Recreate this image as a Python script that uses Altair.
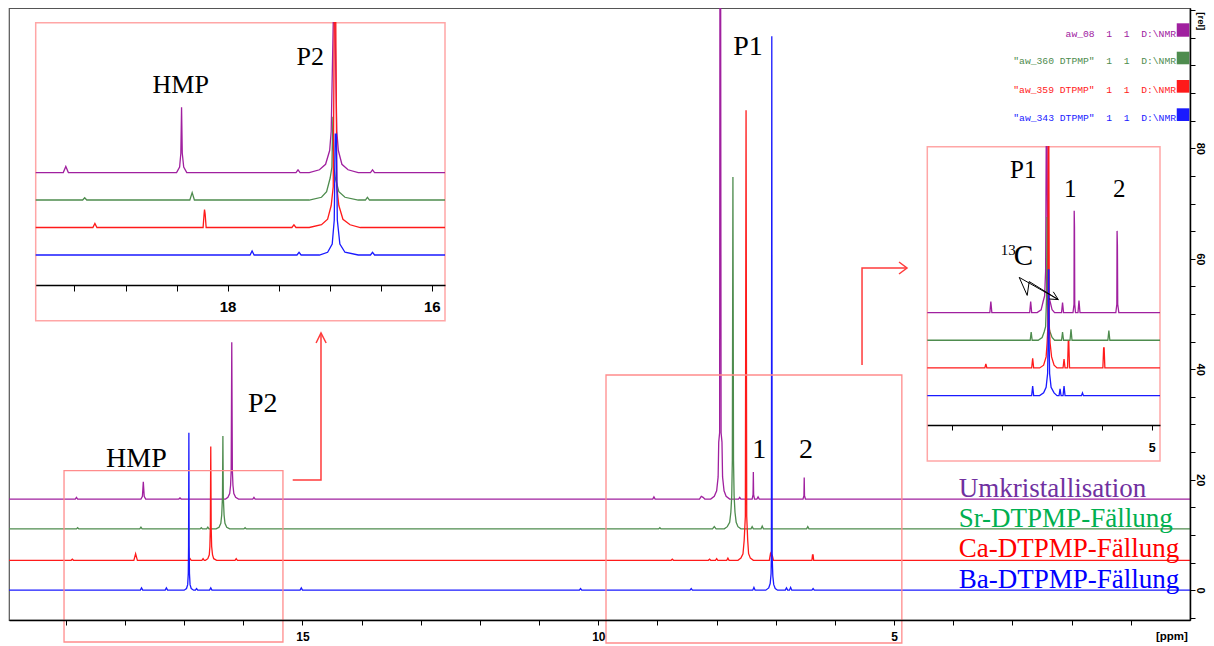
import altair as alt
import pandas as pd

# ---------------- series ----------------
SERIES = ["Umkristallisation", "Sr-DTPMP-Fällung", "Ca-DTPMP-Fällung", "Ba-DTPMP-Fällung"]
TRACE_COLORS = ["#A0209F", "#4E8C4E", "#FF1A1A", "#1A1AFF"]
LABEL_COLORS = ["#7030A0", "#00B050", "#FF0000", "#0000FF"]
FILE_LABELS = ['aw_08  1  1  D:\\NMR', '"aw_360 DTPMP"  1  1  D:\\NMR',
               '"aw_359 DTPMP"  1  1  D:\\NMR', '"aw_343 DTPMP"  1  1  D:\\NMR']
MAIN_OFFSETS = [16.5, 11.1, 5.4, 0.0]
INSET_OFFSETS = [3.0, 2.0, 1.0, 0.0]

# ---------------- main spectrum (ppm, relative intensity above own baseline) ----------------
UM_MAIN_PPM = [20.0, 18.84, 18.82, 18.80, 17.73, 17.705, 17.69, 17.675, 17.65, 17.09, 17.07, 17.05,
               16.30, 16.26, 16.23, 16.215, 16.205, 16.195, 16.185, 16.175, 16.16, 16.13, 16.08,
               15.84, 15.82, 15.80, 9.08, 9.06, 9.04, 8.29, 8.26, 8.23, 8.20,
               8.10, 8.04, 8.00, 7.975, 7.965, 7.95, 7.945, 7.932, 7.925, 7.91, 7.90, 7.875, 7.84, 7.78,
               7.63, 7.61, 7.59, 7.40, 7.385, 7.38, 7.375, 7.36, 7.32, 7.30, 7.28,
               6.54, 6.525, 6.52, 6.515, 6.50, 0.0]
UM_MAIN_INT = [0, 0, 0.3, 0, 0, 0.5, 3.1, 0.5, 0, 0, 0.2, 0,
               0, 0.3, 1.0, 2.5, 5.2, 28.4, 5.2, 2.5, 1.0, 0.3, 0,
               0, 0.3, 0, 0, 0.4, 0, 0, 0.5, 0.3, 0,
               0, 0.5, 1.5, 4.0, 10.3, 12.0, 88.9, 88.9, 12.0, 10.3, 4.0, 1.5, 0.5, 0,
               0, 0.3, 0, 0, 0.8, 4.9, 0.8, 0, 0, 0.4, 0,
               0, 0.6, 3.9, 0.6, 0, 0]
SR_MAIN_PPM = [20.0, 18.82, 18.80, 18.78, 17.75, 17.73, 17.71, 16.73, 16.71, 16.69, 16.62, 16.60, 16.58,
               16.46, 16.41, 16.38, 16.365, 16.352, 16.345, 16.338, 16.325, 16.31, 16.28, 16.23,
               15.99, 15.97, 15.95, 8.98, 8.96, 8.94, 8.07, 8.04, 8.01,
               7.87, 7.82, 7.78, 7.76, 7.745, 7.735, 7.725, 7.715, 7.705, 7.69, 7.67, 7.64, 7.59,
               7.42, 7.40, 7.38, 7.25, 7.23, 7.21, 6.48, 6.46, 6.44, 0.0]
SR_MAIN_INT = [0, 0, 0.2, 0, 0, 0.3, 0, 0, 0.2, 0, 0, 0.3, 0,
               0, 0.3, 1.0, 2.5, 5.8, 16.8, 5.8, 2.5, 1.0, 0.3, 0,
               0, 0.2, 0, 0, 0.2, 0, 0, 0.4, 0,
               0, 0.4, 1.2, 3.0, 6.0, 12.4, 63.7, 12.4, 6.0, 3.0, 1.2, 0.4, 0,
               0, 0.4, 0, 0, 0.5, 0, 0, 0.4, 0, 0]
CA_MAIN_PPM = [20.0, 18.91, 18.89, 18.87, 17.85, 17.82, 17.79, 16.92, 16.90, 16.88, 16.70, 16.68, 16.66,
               16.64, 16.60, 16.575, 16.565, 16.557, 16.55, 16.543, 16.535, 16.52, 16.50, 16.45,
               16.14, 16.12, 16.10, 8.77, 8.75, 8.73, 8.14, 8.12, 8.10, 8.02, 8.00, 7.98, 7.83, 7.81, 7.79,
               7.64, 7.59, 7.555, 7.535, 7.515, 7.503, 7.492, 7.475, 7.46, 7.43, 7.38,
               7.11, 7.09, 7.075, 7.06, 7.04, 6.39, 6.38, 6.37, 6.36, 0.0]
CA_MAIN_INT = [0, 0, 0.2, 0, 0, 1.2, 0, 0, 0.3, 0, 0, 0.3, 0,
               0, 0.3, 1.0, 2.5, 6.0, 20.6, 6.0, 2.5, 1.0, 0.3, 0,
               0, 0.3, 0, 0, 0.2, 0, 0, 0.2, 0, 0, 0.3, 0, 0, 0.4, 0,
               0, 0.4, 1.2, 3.6, 8.0, 81.5, 8.0, 3.6, 1.2, 0.4, 0,
               0, 1.2, 0.8, 0.9, 0, 0, 1.0, 1.0, 0, 0]
BA_MAIN_PPM = [20.0, 17.74, 17.72, 17.70, 17.32, 17.30, 17.28,
               17.00, 16.96, 16.94, 16.93, 16.925, 16.92, 16.915, 16.91, 16.90, 16.88, 16.84,
               16.81, 16.79, 16.77, 16.57, 16.55, 16.53, 15.04, 15.02, 15.00, 10.32, 10.30, 10.28,
               8.45, 8.43, 8.41, 7.39, 7.37, 7.35,
               7.17, 7.12, 7.095, 7.08, 7.075, 7.068, 7.062, 7.05, 7.035, 7.01, 6.97,
               6.84, 6.82, 6.80, 6.77, 6.75, 6.73, 6.39, 6.37, 6.35, 0.0]
BA_MAIN_INT = [0, 0, 0.4, 0, 0, 0.4, 0,
               0, 0.3, 1.0, 3.0, 8.0, 28.5, 8.0, 3.0, 1.0, 0.3, 0,
               0, 0.3, 0, 0, 0.4, 0, 0, 0.4, 0, 0, 0.3, 0,
               0, 0.3, 0, 0, 0.5, 0,
               0, 0.4, 1.2, 3.0, 6.3, 100.3, 6.0, 2.5, 1.0, 0.3, 0,
               0, 0.4, 0, 0, 0.5, 0, 0, 0.3, 0, 0]

# ---------------- inset 1 (P2 / HMP region) ----------------
UM_I1_PPM = [19.88, 19.61, 19.585, 19.56, 18.50, 18.47, 18.458, 18.451, 18.444, 18.43, 18.40,
             17.33, 17.31, 17.29, 17.20, 17.10, 17.04, 17.00, 16.985, 16.965, 16.948, 16.93, 16.915,
             16.88, 16.82, 16.72, 16.60, 16.58, 16.56, 15.87]
UM_I1_INT = [0, 0, 0.22, 0, 0, 0.2, 0.7, 2.37, 0.7, 0.2, 0,
             0, 0.1, 0, 0, 0.1, 0.3, 0.8, 1.5, 8.0, 8.0, 1.5, 0.8,
             0.3, 0.1, 0, 0, 0.1, 0, 0]
SR_I1_PPM = [19.88, 19.42, 19.40, 19.38, 18.37, 18.347, 18.325,
             17.20, 17.08, 17.03, 16.995, 16.978, 16.968, 16.958, 16.945, 16.91, 16.85, 16.72,
             16.65, 16.63, 16.61, 15.87]
SR_I1_INT = [0, 0, 0.08, 0, 0, 0.27, 0,
             0, 0.1, 0.3, 0.8, 1.2, 3.03, 1.2, 0.8, 0.3, 0.1, 0,
             0, 0.1, 0, 0]
CA_I1_PPM = [19.88, 19.32, 19.30, 19.28, 18.24, 18.23, 18.226, 18.22, 18.21, 17.37, 17.35, 17.33,
             17.20, 17.08, 17.02, 16.985, 16.965, 16.955, 16.94, 16.93, 16.91, 16.87, 16.80, 16.70, 15.87]
CA_I1_INT = [0, 0, 0.15, 0, 0, 0.5, 0.65, 0.5, 0, 0, 0.1, 0,
             0, 0.1, 0.3, 0.8, 1.48, 9.0, 9.0, 1.48, 0.8, 0.3, 0.1, 0, 0]
BA_I1_PPM = [19.88, 17.78, 17.76, 17.74, 17.32, 17.30, 17.28,
             17.10, 17.02, 16.975, 16.955, 16.945, 16.935, 16.925, 16.90, 16.85, 16.72,
             16.60, 16.58, 16.56, 15.87]
BA_I1_INT = [0, 0, 0.15, 0, 0, 0.1, 0,
             0, 0.1, 0.4, 1.27, 4.4, 4.4, 1.27, 0.4, 0.1, 0,
             0, 0.1, 0, 0]

# ---------------- inset 2 (P1 region) ----------------
UM_I2_PPM = [9.506, 8.25, 8.23, 8.21, 7.45, 7.43, 7.41,
             7.30, 7.22, 7.18, 7.15, 7.13, 7.118, 7.10, 7.09, 7.07, 7.04, 7.00, 6.95,
             6.81, 6.79, 6.77, 6.58, 6.56, 6.556, 6.55, 6.545, 6.53, 6.48, 6.46, 6.44,
             5.72, 5.70, 5.695, 5.688, 5.682, 5.66, 4.833]
UM_I2_INT = [0, 0, 0.4, 0, 0, 0.4, 0,
             0, 0.1, 0.4, 0.6, 1.5, 8.0, 8.0, 1.5, 0.6, 0.4, 0.1, 0,
             0, 0.36, 0, 0, 0.3, 3.68, 3.1, 0.3, 0, 0, 0.43, 0,
             0, 0.3, 2.95, 2.4, 0.3, 0, 0]
SR_I2_PPM = [9.506, 7.44, 7.42, 7.40,
             7.28, 7.20, 7.16, 7.13, 7.112, 7.10, 7.09, 7.07, 7.04, 7.00, 6.95,
             6.81, 6.79, 6.77, 6.64, 6.62, 6.60, 5.88, 5.86, 5.84, 4.833]
SR_I2_INT = [0, 0, 0.3, 0,
             0, 0.1, 0.3, 0.49, 1.5, 4.45, 1.5, 0.49, 0.3, 0.1, 0,
             0, 0.3, 0, 0, 0.4, 0, 0, 0.35, 0, 0]
CA_I2_PPM = [9.506, 8.35, 8.33, 8.31, 7.41, 7.39, 7.37,
             7.25, 7.17, 7.12, 7.10, 7.085, 7.077, 7.065, 7.055, 7.04, 7.01, 6.96, 6.90,
             6.78, 6.76, 6.74, 6.69, 6.675, 6.665, 6.65, 5.98, 5.965, 5.955, 5.94, 4.833]
CA_I2_INT = [0, 0, 0.15, 0, 0, 0.35, 0,
             0, 0.1, 0.4, 0.9, 1.5, 9.0, 9.0, 1.5, 0.9, 0.4, 0.1, 0,
             0, 0.32, 0, 0, 0.96, 0.96, 0, 0, 0.72, 0.72, 0, 0]
BA_I2_PPM = [9.506, 7.41, 7.39, 7.37,
             7.25, 7.17, 7.12, 7.09, 7.08, 7.075, 7.065, 7.06, 7.05, 7.02, 6.96, 6.90,
             6.86, 6.84, 6.82, 6.78, 6.76, 6.74, 6.41, 6.39, 6.37, 4.833]
BA_I2_INT = [0, 0, 0.35, 0,
             0, 0.1, 0.3, 0.8, 2.0, 4.54, 4.54, 2.0, 0.8, 0.3, 0.1, 0,
             0, 0.25, 0, 0, 0.35, 0, 0, 0.1, 0, 0]

# ---------------- axes ticks ----------------
MAIN_X_DOMAIN = [19.96, 0.0]
MAIN_Y_DOMAIN = [-5.4, 105.4]
MAIN_X_TICKS = list(range(1, 20))
MAIN_X_LABELED = [15, 10, 5]
MAIN_Y_TICKS = list(range(-5, 106, 5))
MAIN_Y_LABELED = [0, 20, 40, 60, 80]
I1_X_DOMAIN = [19.88, 15.87]
I1_Y_DOMAIN = [-2.39, 8.45]
I1_TICKS = [19.5, 19.0, 18.5, 18.0, 17.5, 17.0, 16.5, 16.0]
I1_LABELED = [18, 16]
I2_X_DOMAIN = [9.506, 4.833]
I2_Y_DOMAIN = [-2.36, 8.99]
I2_TICKS = [9, 8, 7, 6, 5]
I2_LABELED = [5]

# ---------------- annotations (data units) ----------------
MAIN_LABELS = ["HMP", "P2", "P1", "1", "2"]
MAIN_LABEL_PPM = [18.32, 15.92, 7.72, 7.40, 6.61]
MAIN_LABEL_VAL = [22.36, 32.26, 96.89, 23.88, 23.93]
LEGEND_PPM = [3.91, 3.91, 3.91, 3.91]
LEGEND_VAL = [16.93, 11.50, 6.07, 0.45]
FILE_PPM = [0.236, 0.236, 0.236, 0.236]
FILE_VAL = [100.2, 95.21, 90.07, 84.94]
SQUARE_PPM = [0.224, 0.011]
SQUARE_TOP = [102.63, 97.49, 92.36, 87.24]
SQUARE_BOTTOM = [100.2, 95.21, 90.07, 84.94]
BOX_PPM_LEFT = [19.03, 9.87]
BOX_PPM_RIGHT = [15.33, 4.87]
BOX_TOP = [21.63, 38.96]
BOX_BOTTOM = [-9.38, -9.56]
ARROWS = {
    "left": ([15.165, 14.687, 14.687], [19.95, 19.95, 46.56]),
    "left_head": ([14.77, 14.687, 14.60], [44.75, 46.56, 44.75]),
    "right": ([5.543, 5.543, 4.783], [40.77, 58.33, 58.33]),
    "right_head": ([4.918, 4.783, 4.918], [59.41, 58.33, 57.24]),
}
AXIS_TEXT = ["[rel]", "[ppm]"]
AXIS_TEXT_PPM = [-0.178, 0.305]
AXIS_TEXT_VAL = [103.0, -8.42]

I1_LABELS = ["HMP", "P2"]
I1_LABEL_PPM = [18.735, 17.324]
I1_LABEL_VAL = [5.88, 6.91]
I2_LABELS = ["P1", "1", "2"]
I2_LABEL_PPM = [7.845, 6.761, 5.777]
I2_LABEL_VAL = [7.85, 7.18, 7.18]
C13_SUP = ("13", 8.03, 5.08)
C13_MAIN = ("C", 7.77, 4.72)
C13_ARROWS = {
    "zig": ([7.66, 7.50, 7.46, 6.876], [4.27, 3.62, 4.12, 3.47]),
    "long": ([7.66, 6.876], [4.27, 3.47]),
    "head": ([7.056, 6.876, 6.976], [3.49, 3.47, 3.75]),
}

W, H = 1181, 612


def trace_df(ppm_lists, int_lists, offsets):
    frames = []
    for name, p, v, off, col in zip(SERIES, ppm_lists, int_lists, offsets, TRACE_COLORS):
        assert len(p) == len(v), name
        frames.append(pd.DataFrame({"series": name, "ppm": p, "val": [x + off for x in v],
                                    "col": col, "idx": list(range(len(p)))}))
    return pd.concat(frames, ignore_index=True)


def poly_df(d):
    rows = []
    for g, (ps, vs) in d.items():
        for i, (p, v) in enumerate(zip(ps, vs)):
            rows.append({"grp": g, "idx": i, "ppm": p, "val": v})
    return pd.DataFrame(rows)


def label_expr(vals):
    return ("indexof([" + ",".join(str(v) for v in vals) +
            "], datum.value) >= 0 ? format(datum.value, 'd') : ''")


main_df = trace_df([UM_MAIN_PPM, SR_MAIN_PPM, CA_MAIN_PPM, BA_MAIN_PPM],
                   [UM_MAIN_INT, SR_MAIN_INT, CA_MAIN_INT, BA_MAIN_INT], MAIN_OFFSETS)
i1_df = trace_df([UM_I1_PPM, SR_I1_PPM, CA_I1_PPM, BA_I1_PPM],
                 [UM_I1_INT, SR_I1_INT, CA_I1_INT, BA_I1_INT], INSET_OFFSETS)
i2_df = trace_df([UM_I2_PPM, SR_I2_PPM, CA_I2_PPM, BA_I2_PPM],
                 [UM_I2_INT, SR_I2_INT, CA_I2_INT, BA_I2_INT], INSET_OFFSETS)

common_axis = dict(tickColor="black", tickWidth=1, domainColor="black", domainWidth=1.5,
                   labelFont="Liberation Sans", labelFontWeight="bold", labelColor="black",
                   labelFlush=False, labelOverlap=False, grid=False, title=None)

MAIN_X_AXIS = alt.Axis(orient="bottom", values=MAIN_X_TICKS, labelExpr=label_expr(MAIN_X_LABELED),
                       tickSize=5, labelFontSize=12, labelPadding=6, zindex=1, **common_axis)
MAIN_Y_AXIS = alt.Axis(orient="right", values=MAIN_Y_TICKS, labelExpr=label_expr(MAIN_Y_LABELED),
                       tickSize=5, labelFontSize=11, labelPadding=1, labelAngle=90,
                       labelAlign="center", labelBaseline="alphabetic", zindex=1, **common_axis)
I1_X_AXIS = alt.Axis(orient="bottom", offset=-335, values=I1_TICKS, labelExpr=label_expr(I1_LABELED),
                     tickSize=6, labelFontSize=15, labelPadding=8, zindex=2, **common_axis)
I2_X_AXIS = alt.Axis(orient="bottom", offset=-195, values=I2_TICKS, labelExpr=label_expr(I2_LABELED),
                     tickSize=5, labelFontSize=12.5, labelPadding=11, zindex=2, **common_axis)

MX = alt.Scale(domain=MAIN_X_DOMAIN, nice=False, zero=False)
MY = alt.Scale(domain=MAIN_Y_DOMAIN, nice=False, zero=False)
I1X = alt.Scale(domain=I1_X_DOMAIN, range=[26.7, 436.0], nice=False, zero=False)
I1Y = alt.Scale(domain=I1_Y_DOMAIN, range=[312.7, 14.7], nice=False, zero=False, clamp=True)
I2X = alt.Scale(domain=I2_X_DOMAIN, range=[918.3, 1151.0], nice=False, zero=False)
I2Y = alt.Scale(domain=I2_Y_DOMAIN, range=[453.0, 138.7], nice=False, zero=False, clamp=True)


def mx(f="ppm"):
    return alt.X(f, type="quantitative", scale=MX, axis=MAIN_X_AXIS)


def my(f="val"):
    return alt.Y(f, type="quantitative", scale=MY, axis=MAIN_Y_AXIS)


def i1x(f="ppm"):
    return alt.X(f, type="quantitative", scale=I1X, axis=I1_X_AXIS)


def i1y(f="val"):
    return alt.Y(f, type="quantitative", scale=I1Y, axis=None)


def i2x(f="ppm"):
    return alt.X(f, type="quantitative", scale=I2X, axis=I2_X_AXIS)


def i2y(f="val"):
    return alt.Y(f, type="quantitative", scale=I2Y, axis=None)


COL = alt.Color("col:N", scale=None)

# ---------------- main layer ----------------
main_lines = alt.Chart(main_df).mark_line(strokeWidth=1.3, clip=True).encode(
    x=mx(), y=my(), color=COL, detail="series:N", order="idx:Q")

box_df = pd.DataFrame({"ppm": BOX_PPM_LEFT, "ppm2": BOX_PPM_RIGHT, "val": BOX_TOP, "val2": BOX_BOTTOM})
boxes = alt.Chart(box_df).mark_rect(fillOpacity=0, stroke="#FF8C8C", strokeWidth=1.3).encode(
    x=mx(), x2="ppm2", y=my(), y2="val2")

arrows = alt.Chart(poly_df(ARROWS)).mark_line(color="#FF3B3B", strokeWidth=1.5).encode(
    x=mx(), y=my(), detail="grp:N", order="idx:Q")

main_lbl_df = pd.DataFrame({"txt": MAIN_LABELS, "ppm": MAIN_LABEL_PPM, "val": MAIN_LABEL_VAL})
main_lbls = alt.Chart(main_lbl_df).mark_text(font="Liberation Serif", fontSize=28, align="left",
                                             baseline="alphabetic", color="black").encode(
    x=mx(), y=my(), text="txt:N")

legend_df = pd.DataFrame({"txt": SERIES, "ppm": LEGEND_PPM, "val": LEGEND_VAL, "col": LABEL_COLORS})
legend_txt = alt.Chart(legend_df).mark_text(font="Liberation Serif", fontSize=27, align="left",
                                            baseline="alphabetic").encode(
    x=mx(), y=my(), text="txt:N", color=COL)

file_df = pd.DataFrame({"txt": [s.replace(" ", "\u00a0") for s in FILE_LABELS], "ppm": FILE_PPM,
                        "val": FILE_VAL, "col": TRACE_COLORS})
file_txt = alt.Chart(file_df).mark_text(font="Liberation Mono", fontSize=9.7, align="right",
                                        baseline="alphabetic").encode(
    x=mx(), y=my(), text="txt:N", color=COL)

sq_df = pd.DataFrame({"ppm": [SQUARE_PPM[0]] * 4, "ppm2": [SQUARE_PPM[1]] * 4,
                      "val": SQUARE_TOP, "val2": SQUARE_BOTTOM, "col": TRACE_COLORS})
squares = alt.Chart(sq_df).mark_rect().encode(x=mx(), x2="ppm2", y=my(), y2="val2", color=COL)

rel_df = pd.DataFrame({"txt": AXIS_TEXT[:1], "ppm": AXIS_TEXT_PPM[:1], "val": AXIS_TEXT_VAL[:1]})
rel_txt = alt.Chart(rel_df).mark_text(font="Liberation Sans", fontWeight="bold", fontSize=9.5, angle=90,
                                      align="center", baseline="middle", color="black").encode(
    x=mx(), y=my(), text="txt:N")
ppm_df = pd.DataFrame({"txt": AXIS_TEXT[1:], "ppm": AXIS_TEXT_PPM[1:], "val": AXIS_TEXT_VAL[1:]})
ppm_txt = alt.Chart(ppm_df).mark_text(font="Liberation Sans", fontWeight="bold", fontSize=11.5,
                                      align="center", baseline="middle", color="black").encode(
    x=mx(), y=my(), text="txt:N")

main_layer = alt.layer(main_lines, boxes, arrows, main_lbls, legend_txt, file_txt, squares, rel_txt, ppm_txt)

# ---------------- inset 1 ----------------
f1_df = pd.DataFrame({"ppm": [I1_X_DOMAIN[0]], "ppm2": [I1_X_DOMAIN[1]],
                      "val": [I1_Y_DOMAIN[1]], "val2": [I1_Y_DOMAIN[0]]})
frame1 = alt.Chart(f1_df).mark_rect(fill="white", stroke="#FFA6A6", strokeWidth=1.5).encode(
    x=i1x(), x2="ppm2", y=i1y(), y2="val2")
lines1 = alt.Chart(i1_df).mark_line(strokeWidth=1.3).encode(
    x=i1x(), y=i1y(), color=COL, detail="series:N", order="idx:Q")
l1_df = pd.DataFrame({"txt": I1_LABELS, "ppm": I1_LABEL_PPM, "val": I1_LABEL_VAL})
labels1 = alt.Chart(l1_df).mark_text(font="Liberation Serif", fontSize=26, align="left",
                                     baseline="alphabetic", color="black").encode(
    x=i1x(), y=i1y(), text="txt:N")
inset1 = alt.layer(frame1, lines1, labels1)

# ---------------- inset 2 ----------------
f2_df = pd.DataFrame({"ppm": [I2_X_DOMAIN[0]], "ppm2": [I2_X_DOMAIN[1]],
                      "val": [I2_Y_DOMAIN[1]], "val2": [I2_Y_DOMAIN[0]]})
frame2 = alt.Chart(f2_df).mark_rect(fill="white", stroke="#FFA6A6", strokeWidth=1.5).encode(
    x=i2x(), x2="ppm2", y=i2y(), y2="val2")
lines2 = alt.Chart(i2_df).mark_line(strokeWidth=1.3).encode(
    x=i2x(), y=i2y(), color=COL, detail="series:N", order="idx:Q")
l2_df = pd.DataFrame({"txt": I2_LABELS, "ppm": I2_LABEL_PPM, "val": I2_LABEL_VAL})
labels2 = alt.Chart(l2_df).mark_text(font="Liberation Serif", fontSize=25, align="left",
                                     baseline="alphabetic", color="black").encode(
    x=i2x(), y=i2y(), text="txt:N")
sup_df = pd.DataFrame({"txt": [C13_SUP[0]], "ppm": [C13_SUP[1]], "val": [C13_SUP[2]]})
sup_txt = alt.Chart(sup_df).mark_text(font="Liberation Serif", fontSize=15, align="left",
                                      baseline="alphabetic", color="black").encode(
    x=i2x(), y=i2y(), text="txt:N")
c_df = pd.DataFrame({"txt": [C13_MAIN[0]], "ppm": [C13_MAIN[1]], "val": [C13_MAIN[2]]})
c_txt = alt.Chart(c_df).mark_text(font="Liberation Serif", fontSize=29, align="left",
                                  baseline="alphabetic", color="black").encode(
    x=i2x(), y=i2y(), text="txt:N")
c13_lines = alt.Chart(poly_df(C13_ARROWS)).mark_line(color="black", strokeWidth=1).encode(
    x=i2x(), y=i2y(), detail="grp:N", order="idx:Q")
inset2 = alt.layer(frame2, lines2, labels2, sup_txt, c_txt, c13_lines)

chart = alt.layer(main_layer, inset1, inset2).resolve_scale(
    x="independent", y="independent"
).properties(
    width=W, height=H,
    autosize=alt.AutoSizeParams(type="none"),
    padding={"left": 1, "top": 0, "right": 16, "bottom": 26},
).configure_view(stroke="#555555", strokeWidth=1.2)

chart.save("out.html", embed_options={"renderer": "svg", "actions": False})
